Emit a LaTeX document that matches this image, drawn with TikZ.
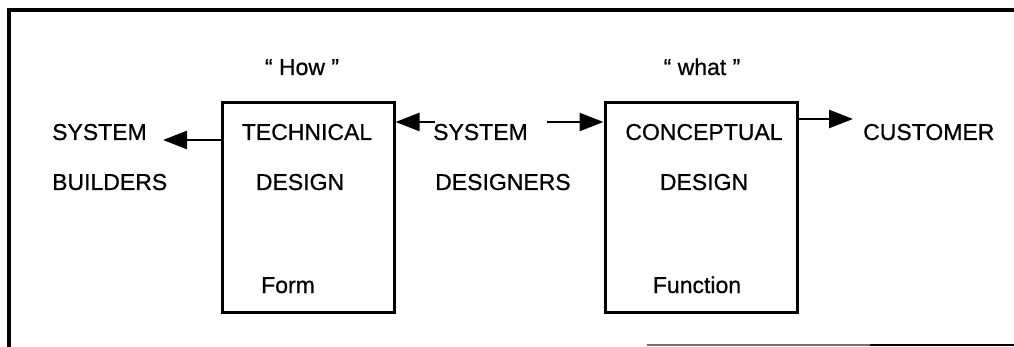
\documentclass[tikz,border=0pt]{standalone}
\usepackage{fontspec}
\setmainfont{Liberation Sans}[UprightFeatures={FakeBold=0.7}]
\usetikzlibrary{arrows.meta}
\begin{document}
\begin{tikzpicture}[x=1pt,y=-1pt,
		lbl/.style={font=\fontsize{23}{27}\selectfont, inner sep=0pt, anchor=base},
		designbox/.style={draw, line width=3pt, minimum height=209pt, inner sep=0pt},
		arr/.style={line width=2.6pt, -{Triangle[length=24pt,width=18pt]}}]
	\useasboundingbox (0,0) rectangle (1014,347);
	% frame
	\draw[line width=3.5pt] (9,347) -- (9,10) -- (1014,10);
	\draw[line width=1.5pt, black!55] (647,345) -- (870,345);
	\draw[line width=2pt] (870,345) -- (1014,345);
	% boxes
	\node[designbox, minimum width=172pt] (tech) at (308,207.5) {};
	\node[designbox, minimum width=192pt] (concept) at (701,207.5) {};
	% texts
	\node[lbl] (how) at (302,75) {“ How ”};
	\node[lbl] (what) at (702,75) {“ what ”};
	\node[lbl, anchor=base west] (buildA) at (52,140) {SYSTEM};
	\node[lbl, anchor=base west] (buildB) at (52,190) {BUILDERS};
	\node[lbl] (techA) at (307,140) {TECHNICAL};
	\node[lbl] (techB) at (300,190) {DESIGN};
	\node[lbl] (techC) at (288,293) {Form};
	\node[lbl, anchor=base west] (desA) at (433,140) {SYSTEM};
	\node[lbl, anchor=base west] (desB) at (435,190) {DESIGNERS};
	\node[lbl] (conA) at (704,140) {CONCEPTUAL};
	\node[lbl] (conB) at (704,190) {DESIGN};
	\node[lbl] (conC) at (697,293) {Function};
	\node[lbl, anchor=base west] (cust) at (863,140) {CUSTOMER};
	% arrows
	\coordinate (buildTip) at (163,140);
	\coordinate (desTail) at (435,122);
	\coordinate (desHead) at (547,122);
	\coordinate (custTip) at (853,119);
	\draw[arr] (tech.west |- buildTip) -- (buildTip);
	\draw[arr] (desTail) -- (desTail -| tech.east);
	\draw[arr] (desHead) -- (desHead -| concept.west);
	\draw[arr] (concept.east |- custTip) -- (custTip);
\end{tikzpicture}
\end{document}
